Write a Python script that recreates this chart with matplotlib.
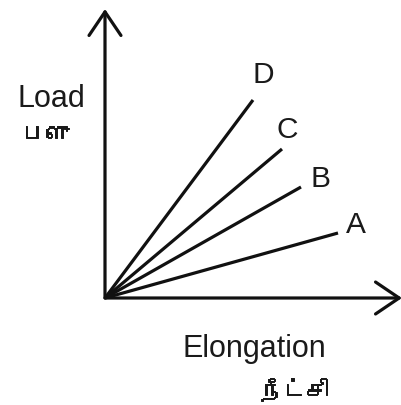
import matplotlib
matplotlib.use("Agg")
import matplotlib.pyplot as plt
import matplotlib.patheffects as pe
from matplotlib import font_manager as fm
from matplotlib.ft2font import FT2Font

# ---- data (arbitrary units) ----
labels = ["A", "B", "C", "D"]
elongation = [23.3, 19.6, 17.7, 14.8]
load = [6.5, 11.1, 14.9, 19.8]
x_label = "Elongation"
x_label_ta = "நீட்சி"
y_label = "Load"
y_label_ta = "பளு"


def find_font(ch):
    for f in fm.fontManager.ttflist:
        try:
            ft = FT2Font(f.fname)
            if ft.get_char_index(ord(ch)):
                return f.name
        except Exception:
            pass
    return None


tamil_font = find_font("ப") or "DejaVu Sans"
latin = ["Liberation Sans", "DejaVu Sans"]
bold_fx = [pe.withStroke(linewidth=0.7, foreground="#1a1a1a")]

W, H = 402, 405
fig = plt.figure(figsize=(W / 100, H / 100), dpi=100)
ax = fig.add_axes([105 / W, 107 / H, 297 / W, 289 / H])
ax.set_xlim(0, 29.7)
ax.set_ylim(0, 28.9)
ax.axis("off")

lw = 2.3
offsets = {"A": (5.8, 0), "B": (6.5, 0), "C": (-3.6, 7.9), "D": (0, 12.2)}
for lab, x, y in zip(labels, elongation, load):
    ax.plot([0, x], [0, y], color="#111111", lw=lw, solid_capstyle="butt", clip_on=False)
    ax.annotate(lab, xy=(x, y), xytext=offsets[lab], textcoords="offset points",
                ha="left", va="baseline", fontsize=21.5, family=latin, color="#1a1a1a")

arrow_kw = dict(arrowstyle="->,head_length=1.7,head_width=1.15", mutation_scale=10,
                lw=lw, color="#111111", shrinkA=0, shrinkB=0)
ax.annotate("", xy=(1, 0), xytext=(0, 0), xycoords="axes fraction",
            textcoords="axes fraction", arrowprops=arrow_kw, annotation_clip=False)
ax.annotate("", xy=(0, 1), xytext=(0, 0), xycoords="axes fraction",
            textcoords="axes fraction", arrowprops=arrow_kw, annotation_clip=False)

fig.text(18 / W, 1 - 107 / H, y_label, fontsize=22, family=latin, color="#1a1a1a",
         ha="left", va="baseline")
fig.text(45 / W, 1 - 141 / H, y_label_ta, fontsize=17, fontweight="bold",
         family=[tamil_font, "DejaVu Sans"], color="#1a1a1a", ha="center", va="baseline",
         path_effects=bold_fx)
fig.text(183 / W, 1 - 357 / H, x_label, fontsize=22, family=latin, color="#1a1a1a",
         ha="left", va="baseline")
fig.text(294 / W, 1 - 398 / H, x_label_ta, fontsize=16.5, fontweight="bold",
         family=[tamil_font, "DejaVu Sans"], color="#1a1a1a", ha="center", va="baseline",
         path_effects=bold_fx)

fig.savefig("out.png", dpi=100, facecolor="white")
